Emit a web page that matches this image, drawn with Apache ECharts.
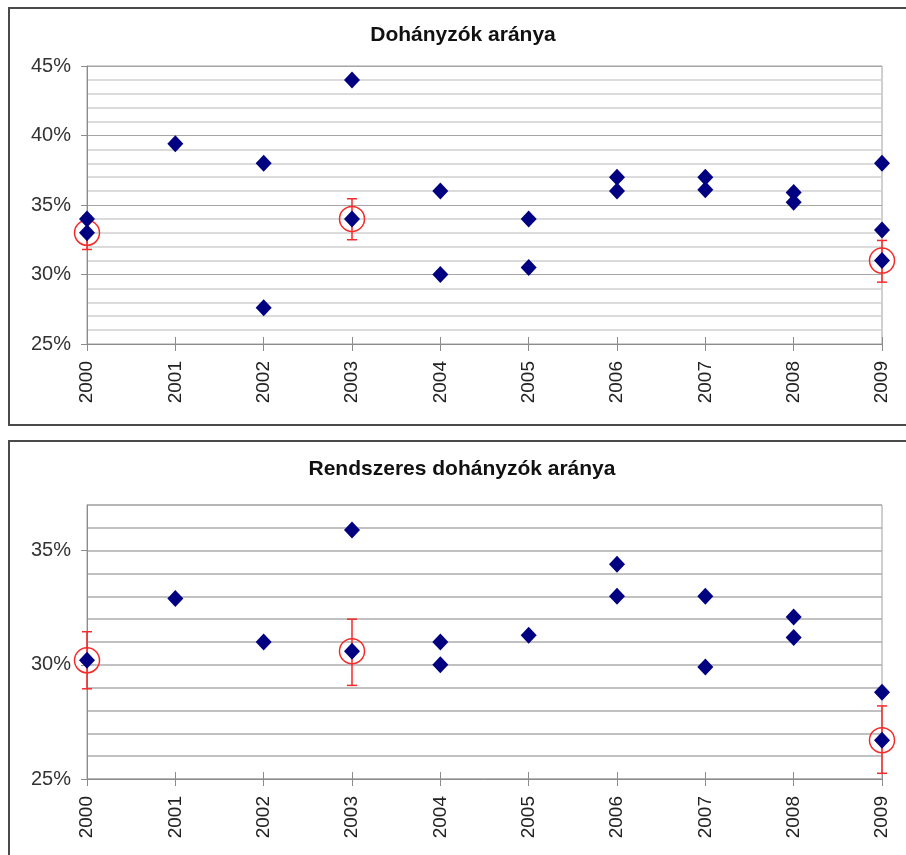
<!DOCTYPE html>
<html>
<head>
<meta charset="utf-8">
<script src="https://cdn.jsdelivr.net/npm/echarts@6/dist/echarts.min.js"></script>
<style>
  html, body { margin: 0; padding: 0; background: #ffffff; }
  #chart { width: 906px; height: 855px; }
</style>
</head>
<body>
<div id="chart"></div>
<script>
// ---------- data ----------
const years = ['2000', '2001', '2002', '2003', '2004', '2005', '2006', '2007', '2008', '2009'];

// Chart 1: Dohányzók aránya
const title1 = 'Dohányzók aránya';
const smokersYears  = ['2000','2000','2001','2002','2002','2003','2003','2004','2004','2005','2005','2006','2006','2007','2007','2008','2008','2009','2009','2009'];
const smokersValues = [34, 33, 39.4, 38, 27.6, 44, 34, 36, 30, 34, 30.5, 37, 36, 37, 36.1, 35.9, 35.2, 38, 33.2, 31];
const smokersMarkYears  = ['2000', '2003', '2009'];
const smokersMarkValues = [33, 34, 31];
const smokersErrLow  = [31.8, 32.5, 29.45];
const smokersErrHigh = [34.2, 35.45, 32.45];
const smokersTicks = [25, 30, 35, 40, 45];

// Chart 2: Rendszeres dohányzók aránya
const title2 = 'Rendszeres dohányzók aránya';
const regularYears  = ['2000','2001','2002','2003','2003','2004','2004','2005','2006','2006','2007','2007','2008','2008','2009','2009'];
const regularValues = [30.2, 32.9, 31, 35.9, 30.6, 31, 30, 31.3, 34.4, 33, 33, 29.9, 32.1, 31.2, 28.8, 26.7];
const regularMarkYears  = ['2000', '2003', '2009'];
const regularMarkValues = [30.2, 30.6, 26.7];
const regularErrLow  = [28.95, 29.1, 25.25];
const regularErrHigh = [31.45, 32.0, 28.2];
const regularTicks = [25, 30, 35];

// ---------- styling ----------
const FONT = '"Liberation Sans", Arial, sans-serif';
const NAVY = '#000080';
const RED = '#f52a2a';
const AXIS = '#8c8c8c';

function pairs(xs, ys) { return xs.map((x, i) => [x, ys[i]]); }
function triples(xs, lo, hi) { return xs.map((x, i) => [x, lo[i], hi[i]]); }

function errorBarRender(params, api) {
  const x = api.value(0);
  const lo = api.coord([x, api.value(1)]);
  const hi = api.coord([x, api.value(2)]);
  const cap = 5;
  const st = { stroke: RED, lineWidth: 1.5, fill: null };
  return {
    type: 'group',
    children: [
      { type: 'line', shape: { x1: lo[0], y1: lo[1], x2: hi[0], y2: hi[1] }, style: st },
      { type: 'line', shape: { x1: lo[0] - cap, y1: lo[1], x2: lo[0] + cap, y2: lo[1] }, style: st },
      { type: 'line', shape: { x1: hi[0] - cap, y1: hi[1], x2: hi[0] + cap, y2: hi[1] }, style: st }
    ]
  };
}

function mainXAxis(gridIndex) {
  return {
    type: 'category', gridIndex: gridIndex, data: years, boundaryGap: false, position: 'bottom',
    axisLine: { show: true, lineStyle: { color: AXIS, width: 1 } },
    axisTick: { show: true, length: 7, lineStyle: { color: AXIS } },
    axisLabel: { rotate: 90, fontSize: 19, fontFamily: FONT, color: '#222', margin: 17 },
    splitLine: { show: false }
  };
}
function innerTickXAxis(gridIndex) {
  return {
    type: 'category', gridIndex: gridIndex, data: years, boundaryGap: false, position: 'bottom',
    axisLine: { show: false },
    axisTick: { show: true, inside: true, length: 7, lineStyle: { color: AXIS } },
    axisLabel: { show: false },
    splitLine: { show: false }
  };
}

const circleStyle = { color: 'rgba(0,0,0,0)', borderColor: RED, borderWidth: 1.5, opacity: 1 };
const diamondStyle = { color: NAVY, opacity: 1 };

const option = {
  animation: false,
  backgroundColor: '#ffffff',
  graphic: [
    { type: 'rect', shape: { x: 9, y: 8, width: 920, height: 417 }, style: { fill: null, stroke: '#4a4a4a', lineWidth: 2 }, z: -10 },
    { type: 'rect', shape: { x: 9, y: 441, width: 920, height: 440 }, style: { fill: null, stroke: '#4a4a4a', lineWidth: 2 }, z: -10 },
    { type: 'text', x: 463, y: 35, style: { text: title1, font: 'bold 21px ' + FONT, fill: '#111', align: 'center', verticalAlign: 'middle' } },
    { type: 'text', x: 462, y: 469, style: { text: title2, font: 'bold 21px ' + FONT, fill: '#111', align: 'center', verticalAlign: 'middle' } }
  ],
  grid: [
    { left: 87, right: 24, top: 66, bottom: 855 - 344, show: true, borderColor: '#a0a0a0', borderWidth: 1, backgroundColor: 'transparent' },
    { left: 87, right: 24, top: 505, bottom: 855 - 779, show: true, borderColor: '#a0a0a0', borderWidth: 1, backgroundColor: 'transparent' }
  ],
  xAxis: [mainXAxis(0), innerTickXAxis(0), mainXAxis(1), innerTickXAxis(1)],
  yAxis: [
    {
      type: 'value', gridIndex: 0, min: 25, max: 45, interval: 5, position: 'left',
      axisLine: { show: true, lineStyle: { color: AXIS } },
      axisTick: { show: true, length: 6, lineStyle: { color: AXIS } },
      axisLabel: { fontSize: 20, fontFamily: FONT, color: '#333', margin: 16, formatter: v => v + '%' },
      splitLine: { show: true, lineStyle: { color: '#a6a6a6', width: 1.2 } },
      minorTick: { show: false, splitNumber: 5 },
      minorSplitLine: { show: true, lineStyle: { color: '#cfcfcf', width: 1.5 } }
    },
    {
      type: 'value', gridIndex: 1, min: 25, max: 37, interval: 1, position: 'left',
      axisLine: { show: true, lineStyle: { color: AXIS } },
      axisTick: { show: false },
      axisLabel: { fontSize: 20, fontFamily: FONT, color: '#333', margin: 16,
        formatter: v => (regularTicks.indexOf(v) >= 0 ? v + '%' : '') },
      splitLine: { show: true, lineStyle: { color: '#adadad', width: 1.5 } }
    },
    {
      type: 'value', gridIndex: 1, min: 25, max: 37, position: 'left',
      axisLine: { show: false },
      axisTick: { show: true, length: 6, lineStyle: { color: AXIS }, customValues: regularTicks },
      axisLabel: { show: false },
      splitLine: { show: false }
    }
  ],
  series: [
    { type: 'custom', xAxisIndex: 0, yAxisIndex: 0, renderItem: errorBarRender, clip: false,
      data: triples(smokersMarkYears, smokersErrLow, smokersErrHigh), z: 3 },
    { type: 'scatter', xAxisIndex: 0, yAxisIndex: 0, symbol: 'circle', symbolSize: 25, clip: false,
      itemStyle: circleStyle, data: pairs(smokersMarkYears, smokersMarkValues), z: 4 },
    { type: 'scatter', xAxisIndex: 0, yAxisIndex: 0, symbol: 'diamond', symbolSize: [16, 17], clip: false,
      itemStyle: diamondStyle, data: pairs(smokersYears, smokersValues), z: 5 },

    { type: 'custom', xAxisIndex: 2, yAxisIndex: 1, renderItem: errorBarRender, clip: false,
      data: triples(regularMarkYears, regularErrLow, regularErrHigh), z: 3 },
    { type: 'scatter', xAxisIndex: 2, yAxisIndex: 1, symbol: 'circle', symbolSize: 25, clip: false,
      itemStyle: circleStyle, data: pairs(regularMarkYears, regularMarkValues), z: 4 },
    { type: 'scatter', xAxisIndex: 2, yAxisIndex: 1, symbol: 'diamond', symbolSize: [16, 17], clip: false,
      itemStyle: diamondStyle, data: pairs(regularYears, regularValues), z: 5 }
  ]
};

const chart = echarts.init(document.getElementById('chart'), null, { renderer: 'canvas' });
chart.setOption(option);
</script>
</body>
</html>
